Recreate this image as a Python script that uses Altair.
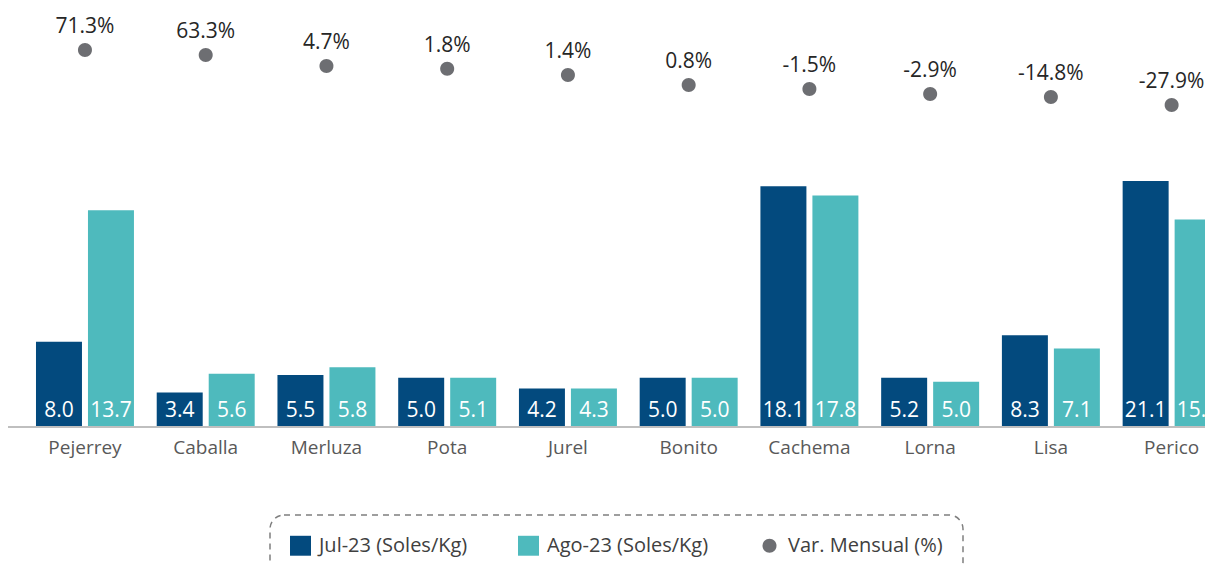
import altair as alt
import pandas as pd

categories = ["Pejerrey", "Caballa", "Merluza", "Pota", "Jurel", "Bonito", "Cachema", "Lorna", "Lisa", "Perico"]
series = ["Jul-23 (Soles/Kg)", "Ago-23 (Soles/Kg)", "Var. Mensual (%)"]

# Labelled values (Soles/Kg) and monthly variation (%)
jul_values = [8.0, 3.4, 5.5, 5.0, 4.2, 5.0, 18.1, 5.2, 8.3, 21.1]
ago_values = [13.7, 5.6, 5.8, 5.1, 4.3, 5.0, 17.8, 5.0, 7.1, 15.2]
var_values = [71.3, 63.3, 4.7, 1.8, 1.4, 0.8, -1.5, -2.9, -14.8, -27.9]

# Bar heights as drawn in the picture (chart units)
jul_drawn = [6.4, 2.6, 3.9, 3.7, 2.9, 3.7, 18.1, 3.7, 6.9, 18.5]
ago_drawn = [16.3, 4.0, 4.5, 3.7, 2.9, 3.7, 17.4, 3.4, 5.9, 15.6]
# Vertical level of the variation markers as drawn (chart units)
var_level = [28.35, 27.97, 27.14, 26.94, 26.47, 25.71, 25.41, 25.04, 24.81, 24.21]

colors = ["#034A7E", "#4EBABD", "#6D6E72"]
SQUARE = "M-1,-0.95H1V0.95H-1Z"
DOT = "M-0.667,0A0.667,0.667,0,1,1,0.667,0A0.667,0.667,0,1,1,-0.667,0Z"
shapes = [SQUARE, SQUARE, DOT]
FONT = "Open Sans"

rows = []
for i, c in enumerate(categories):
    rows.append({"cat": c, "serie": series[0], "h": jul_drawn[i], "zero": 0.0,
                 "label": f"{jul_values[i]:.1f}"})
    rows.append({"cat": c, "serie": series[1], "h": ago_drawn[i], "zero": 0.0,
                 "label": f"{ago_values[i]:.1f}"})
bars_df = pd.DataFrame(rows)

dots_df = pd.DataFrame({
    "cat": categories,
    "serie": [series[2]] * len(categories),
    "level": var_level,
    "zero": [0.0] * len(categories),
    "label": [f"{v:.1f}%" for v in var_values],
})

x_enc = alt.X("cat:N", sort=categories, title=None,
              scale=alt.Scale(range=[16.6, 1224], paddingInner=0, paddingOuter=0),
              axis=alt.Axis(labelFont=FONT, labelFontSize=19, labelColor="#595959",
                            ticks=False, domain=False, labelPadding=11, labelAngle=0))
xoff = alt.XOffset("serie:N", sort=series[:2],
                   scale=alt.Scale(paddingInner=0.1154, paddingOuter=0.219))
y_scale = alt.Scale(domain=[0, 31.5], nice=False, zero=True)

legend = alt.Legend(
    title=None, orient="none", legendX=262, legendY=507, direction="horizontal", columns=3,
    columnPadding=50, labelFont=FONT, labelFontSize=20, labelColor="#404040", labelOffset=8,
    labelLimit=400, symbolStrokeWidth=0, symbolSize=440,
)
color = alt.Color("serie:N", scale=alt.Scale(domain=series, range=colors), legend=legend)
shape = alt.Shape("serie:N", scale=alt.Scale(domain=series, range=shapes), legend=legend)

bars = alt.Chart(bars_df).mark_bar().encode(
    x=x_enc, xOffset=xoff,
    y=alt.Y("h:Q", scale=y_scale, axis=None),
    color=color,
)
bar_labels = alt.Chart(bars_df).mark_text(
    font=FONT, fontSize=21, color="white", baseline="alphabetic", dy=-10
).encode(x=x_enc, xOffset=xoff, y=alt.Y("zero:Q", scale=y_scale, axis=None), text="label:N")

dots = alt.Chart(dots_df).mark_point(size=440, filled=True, opacity=1, strokeWidth=0).encode(
    x=x_enc, y=alt.Y("level:Q", scale=y_scale, axis=None), color=color, shape=shape,
)
dot_labels = alt.Chart(dots_df).mark_text(
    font=FONT, fontSize=21, color="#262626", baseline="alphabetic", dy=-17
).encode(x=x_enc, y=alt.Y("level:Q", scale=y_scale, axis=None), text="label:N")

baseline = alt.Chart(dots_df).mark_rule(color="#BFBFBF", strokeWidth=2).encode(
    y=alt.Y("zero:Q", scale=y_scale, axis=None)
)

chart = alt.layer(bars, bar_labels, baseline, dots, dot_labels).properties(
    width=1197, height=419,
    background="white",
    autosize=alt.AutoSizeParams(type="none"),
    padding={"left": 0, "top": 0, "right": 0, "bottom": 137},
).configure_view(stroke=None, strokeWidth=0).configure_legend(
    padding=20, strokeColor="#7f7f7f", strokeDash=[6, 5], strokeWidth=1.5, cornerRadius=14,
)

chart.save("out.html", embed_options={"renderer": "svg", "actions": False})
